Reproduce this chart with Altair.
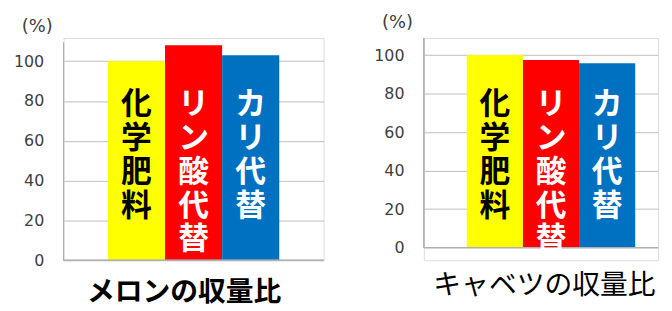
import altair as alt
import pandas as pd

categories = ["化学肥料", "リン酸代替", "カリ代替"]
melon_values = [100, 108, 103]
cabbage_values = [100, 97.5, 95.7]
panel_titles = ["メロンの収量比", "キャベツの収量比"]
y_ticks = [0, 20, 40, 60, 80, 100]
bar_colors = ["#FFFF00", "#FF0000", "#0070C0"]
text_colors = ["#000000", "#FFFFFF", "#FFFFFF"]

JP = "Noto Sans CJK JP"
NUM = "DejaVu Sans"


def panel(values, title, width, height, ydomain, axis_top, pad_outer, align,
          pct_y, title_x, title_y, title_weight):
    df = pd.DataFrame({
        "cat": categories,
        "value": values,
        "label": ["\n".join(list(c)) for c in categories],
    })
    x = alt.X("cat:N", sort=categories,
              scale=alt.Scale(paddingInner=0, paddingOuter=pad_outer, align=align),
              axis=alt.Axis(labels=False, ticks=False, domain=False, grid=False,
                            title=title, titleFont=JP, titleFontSize=28,
                            titleFontWeight=title_weight, titleColor="#000000",
                            titleX=title_x, titleY=title_y, titleAlign="center",
                            titleBaseline="middle"))
    y = alt.Y("value:Q",
              scale=alt.Scale(domain=ydomain, nice=False, zero=False),
              axis=alt.Axis(values=y_ticks, grid=True, gridColor="#c0c0c0",
                            gridWidth=1, domain=False, ticks=False,
                            labelPadding=20, labelFont=NUM, labelFontSize=16,
                            labelColor="#404040", title="(%)", titleAngle=0,
                            titleFont=NUM, titleFontSize=18,
                            titleFontWeight="normal", titleColor="#404040",
                            titleX=-27, titleY=pct_y, titleAlign="center",
                            titleBaseline="middle"))
    base = alt.Chart(df)
    bars = base.mark_bar().encode(
        x=x, y=y, y2=alt.datum(0),
        color=alt.Color("cat:N", scale=alt.Scale(domain=categories, range=bar_colors),
                        legend=None),
    )
    texts = base.mark_text(lineBreak="\n", baseline="top", align="center",
                           font=JP, fontSize=31, fontWeight="bold",
                           lineHeight=34).encode(
        x=alt.X("cat:N", sort=categories),
        y=alt.value(53),
        text="label:N",
        fill=alt.Fill("cat:N", scale=alt.Scale(domain=categories, range=text_colors),
                      legend=None),
    )
    xaxis_line = alt.Chart(df).mark_rule(color="#b0b0b0", strokeWidth=1).encode(
        y=alt.datum(0))
    yaxis_line = alt.Chart(df).mark_rule(color="#b0b0b0", strokeWidth=1).encode(
        x=alt.value(0), y=alt.datum(0), y2=alt.datum(axis_top))
    return alt.layer(bars, xaxis_line, yaxis_line, texts).properties(
        width=width, height=height)


left = panel(melon_values, panel_titles[0], 262, 224, [0, 111.67], 109.3,
             0.776, 0.5, -11, 121, 33, "bold")
right = panel(cabbage_values, panel_titles[1], 236, 224, [-6.55, 108.9], 108.9,
              0.586, 0.653, -16, 121, 26, "normal")

chart = alt.hconcat(left, right, spacing=48).properties(
    padding={"left": 4, "top": 3, "right": 5, "bottom": 5}
).configure_view(stroke=None).configure(background="white")

chart.save("out.html", embed_options={"renderer": "svg", "actions": False})
